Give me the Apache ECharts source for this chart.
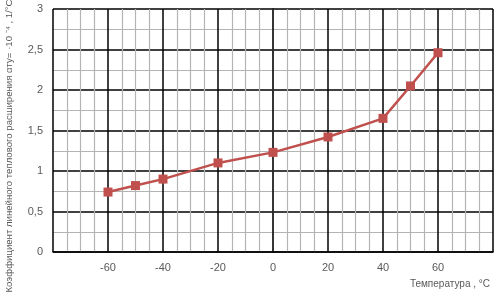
<!DOCTYPE html>
<html><head><meta charset="utf-8">
<script src="https://cdn.jsdelivr.net/npm/echarts@6/dist/echarts.min.js"></script>
<style>html,body{margin:0;padding:0;background:#fff}#c{width:496px;height:296px}</style>
</head><body><div id="c"></div>
<script>
const temperatures = [-60, -50, -40, -20, 0, 20, 40, 50, 60];
const coefficients = [0.74, 0.82, 0.90, 1.10, 1.23, 1.42, 1.65, 2.05, 2.46];
const xTicks = [-60, -40, -20, 0, 20, 40, 60];
const yTicks = [0, 0.5, 1, 1.5, 2, 2.5, 3];
const xTitle = 'Температура , °C';
const yTitle = 'Коэффициент линейного теплового расширения αту= ·10 ⁻⁴ , 1/°C';

const chart = echarts.init(document.getElementById('c'), null, {renderer: 'canvas'});
const textColor = '#595959';
chart.setOption({
  animation: false,
  backgroundColor: '#fff',
  grid: {left: 53, right: 3, top: 9, bottom: 44, containLabel: false, outerBoundsMode: 'none'},
  xAxis: {
    type: 'value', min: -80, max: 80, interval: 20,
    axisLine: {show: true, onZero: false, lineStyle: {color: '#000', width: 1.5}},
    axisTick: {show: false},
    axisLabel: {
      color: textColor, fontFamily: 'Liberation Sans, Arial, sans-serif', fontSize: 11, margin: 10,
      formatter: v => xTicks.indexOf(v) >= 0 ? String(v) : ''
    },
    splitLine: {show: true, lineStyle: {color: ['#000','#000','#000','#000','#c4c4c4','#000','#000','#000','#000'], width: 1.5}},
    minorTick: {show: false, splitNumber: 4},
    minorSplitLine: {show: true, lineStyle: {color: '#b4b4b4', width: 1.2}}
  },
  yAxis: {
    type: 'value', min: 0, max: 3, interval: 0.5,
    axisLine: {show: true, lineStyle: {color: '#000', width: 1.5}},
    axisTick: {show: false},
    axisLabel: {
      color: textColor, fontFamily: 'Liberation Sans, Arial, sans-serif', fontSize: 11, margin: 10,
      formatter: v => yTicks.indexOf(v) >= 0 ? String(v).replace('.', ',') : ''
    },
    splitLine: {show: true, lineStyle: {color: '#000', width: 1.5}},
    minorTick: {show: false, splitNumber: 2},
    minorSplitLine: {show: true, lineStyle: {color: '#b4b4b4', width: 1.2}}
  },
  graphic: [{
    type: 'text', right: 6, top: 279,
    style: {text: xTitle, fill: textColor, font: '10px "Liberation Sans", Arial, sans-serif'}
  }, {
    type: 'text', x: 9, y: 146, rotation: Math.PI / 2,
    style: {text: yTitle, fill: textColor, font: '9.6px "Liberation Sans", Arial, sans-serif',
            align: 'center', verticalAlign: 'middle'}
  }],
  series: [{
    type: 'line',
    data: temperatures.map((t, i) => [t, coefficients[i]]),
    symbol: 'rect', symbolSize: 9,
    lineStyle: {color: '#c0504d', width: 2.5},
    itemStyle: {color: '#c0504d'}
  }]
});
</script></body></html>
